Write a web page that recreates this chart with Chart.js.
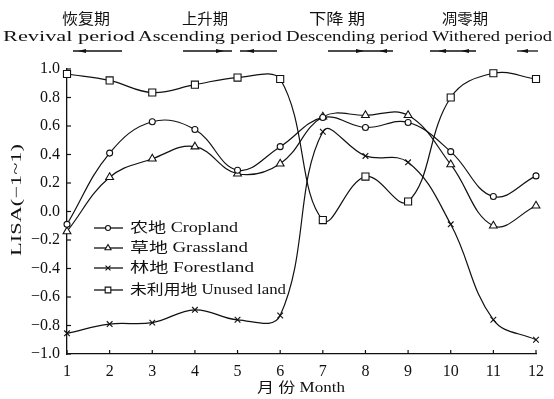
<!DOCTYPE html>
<html lang="zh">
<head>
  <meta charset="UTF-8">
  <title>LISA by month</title>
  <script src="https://cdn.jsdelivr.net/npm/chart.js"></script>
  <style>
    * { margin:0; padding:0; box-sizing:border-box; }
    html,body { width:554px; height:399px; overflow:hidden; background:#fff; }
    #wrap { position:relative; width:554px; height:399px; }
  </style>
</head>
<body>
  <div id="wrap"><canvas id="chart" width="554" height="399"></canvas></div>

  <script>
    // data
    const months = ['1','2','3','4','5','6','7','8','9','10','11','12'];
    const cropland   = [-0.09, 0.41, 0.63, 0.575, 0.29, 0.455, 0.66, 0.59, 0.625, 0.42, 0.105, 0.25];
    const grassland  = [-0.14, 0.24, 0.37, 0.455, 0.265, 0.335, 0.665, 0.675, 0.675, 0.33, -0.10, 0.04];
    const forestland = [-0.855, -0.79, -0.78, -0.69, -0.76, -0.73, 0.56, 0.39, 0.345, -0.09, -0.76, -0.90];
    const unused     = [0.965, 0.92, 0.835, 0.89, 0.94, 0.93, -0.06, 0.245, 0.07, 0.80, 0.97, 0.93];
    const seriesNames = ['农地 Cropland', '草地 Grassland', '林地 Forestland', '未利用地 Unused land'];
    const yTicks = [-1.0, -0.8, -0.6, -0.4, -0.2, 0.0, 0.2, 0.4, 0.6, 0.8, 1.0];
    const periodsCn = ['恢复期', '上升期', '下降 期', '凋零期'];
    const periodsEn = ['Revival period', 'Ascending period', 'Descending period', 'Withered period'];

    const SERIF = '"Liberation Serif", "Noto Sans CJK SC", serif';
    const CJK = '"Noto Sans CJK SC", "Liberation Serif", sans-serif';

    // draw text stretched to a given width (the scan has wide lettering)
    function fitText(ctx, text, cx, cy, width, font) {
      ctx.save();
      ctx.font = font;
      const w = ctx.measureText(text).width;
      ctx.translate(cx, cy);
      ctx.scale(width / w, 1);
      ctx.textAlign = 'center';
      ctx.textBaseline = 'middle';
      ctx.fillText(text, 0, 0);
      ctx.restore();
    }

    // line with small filled heads; d = -1 points left, 1 points right
    function arrow(ctx, x1, x2, y, heads) {
      ctx.beginPath();
      ctx.moveTo(x1, y); ctx.lineTo(x2, y);
      ctx.stroke();
      heads.forEach(h => {
        const d = h[1];
        ctx.beginPath();
        ctx.moveTo(h[0] + 4 * d, y);
        ctx.lineTo(h[0] - 4 * d, y - 2);
        ctx.lineTo(h[0] - 4 * d, y + 2);
        ctx.closePath();
        ctx.fill();
      });
    }

    const extras = {
      id: 'extras',
      afterDraw(chart) {
        const ctx = chart.ctx;
        const ca = chart.chartArea;
        const xs = chart.scales.x, ys = chart.scales.y;
        ctx.save();
        ctx.fillStyle = '#111';
        ctx.strokeStyle = '#111';
        ctx.lineWidth = 1.2;

        // inward ticks
        yTicks.forEach(v => {
          const py = ys.getPixelForValue(v);
          ctx.beginPath(); ctx.moveTo(ca.left, py); ctx.lineTo(ca.left + 4, py); ctx.stroke();
        });
        months.forEach((m, i) => {
          const px = xs.getPixelForValue(i);
          ctx.beginPath(); ctx.moveTo(px, ca.bottom); ctx.lineTo(px, ca.bottom - 4); ctx.stroke();
        });

        // period header
        const cnX = [86, 205, 337, 465], cnW = [48, 46, 56, 46];
        periodsCn.forEach((t, i) => fitText(ctx, t, cnX[i], 18, cnW[i], '15px ' + CJK));
        const enX = [69, 210, 357, 492], enW = [132, 144, 142, 120];
        periodsEn.forEach((t, i) => fitText(ctx, t, enX[i], 37, enW[i], '15px ' + SERIF));
        ctx.lineWidth = 1.3;
        arrow(ctx, 73, 122, 51, [[82, -1]]);
        arrow(ctx, 183, 232, 51, [[220, 1]]);
        arrow(ctx, 240, 277, 51, [[250, -1]]);
        arrow(ctx, 328, 393, 51, [[360, 1], [383, -1]]);
        arrow(ctx, 430, 476, 51, [[442, -1], [465, -1]]);
        arrow(ctx, 517, 538, 51, [[524, -1]]);

        // legend inside the plot
        const rowY = [228, 248, 268, 290];
        const textW = [108, 118, 124, 156];
        const keyR = [2.5, 3.5, 3.5, 4];
        chart.data.datasets.forEach((ds, i) => {
          const y = rowY[i];
          ctx.lineWidth = 1.3;
          ctx.strokeStyle = '#111';
          ctx.beginPath(); ctx.moveTo(94, y); ctx.lineTo(123, y); ctx.stroke();
          ctx.fillStyle = '#fff';
          ctx.lineWidth = 1.1;
          Chart.helpers.drawPoint(ctx, {
            pointStyle: ds.pointStyle, radius: keyR[i], borderWidth: 1.1
          }, 108, y);
          ctx.fillStyle = '#111';
          fitText(ctx, seriesNames[i], 130 + textW[i] / 2, y, textW[i], '14px ' + SERIF);
        });

        // axis titles
        ctx.save();
        ctx.translate(17, 200);
        ctx.rotate(-Math.PI / 2);
        fitText(ctx, 'LISA(−1~1)', 0, 0, 112, '15px ' + SERIF);
        ctx.restore();
        fitText(ctx, '月 份 Month', 301, 388, 88, '14px ' + SERIF);
        ctx.restore();
      }
    };

    function series(label, data, style, r) {
      return {
        label, data,
        borderColor: '#111', backgroundColor: '#fff',
        borderWidth: 1.2, tension: 0.4,
        pointStyle: style, pointRadius: r, pointHoverRadius: r,
        pointBorderColor: '#111', pointBackgroundColor: '#fff', pointBorderWidth: 1.1
      };
    }

    new Chart(document.getElementById('chart'), {
      type: 'line',
      data: {
        labels: months,
        datasets: [
          series(seriesNames[0], cropland, 'circle', 3),
          series(seriesNames[1], grassland, 'triangle', 4.5),
          series(seriesNames[2], forestland, 'crossRot', 4),
          series(seriesNames[3], unused, 'rect', 5)
        ]
      },
      options: {
        responsive: false,
        animation: false,
        events: [],
        clip: false,
        layout: { padding: { top: 69, right: 18, left: 0, bottom: 0 } },
        plugins: { legend: { display: false }, tooltip: { enabled: false } },
        scales: {
          x: {
            type: 'category', offset: false,
            grid: { display: false, drawTicks: false },
            border: { display: true, color: '#111', width: 1.3 },
            ticks: { color: '#111', padding: 8, font: { family: SERIF, size: 16 }, maxRotation: 0, autoSkip: false },
            afterFit(s) { s.height = 45; }
          },
          y: {
            min: -1, max: 1,
            afterBuildTicks(s) { s.ticks = yTicks.map(v => ({ value: v })); },
            grid: { display: false, drawTicks: false },
            border: { display: true, color: '#111', width: 1.3 },
            ticks: {
              color: '#111', padding: 7, font: { family: SERIF, size: 16 },
              callback: v => v.toFixed(1).replace('-', '−')
            },
            afterFit(s) { s.width = 67; }
          }
        }
      },
      plugins: [extras]
    });
  </script>
</body>
</html>
